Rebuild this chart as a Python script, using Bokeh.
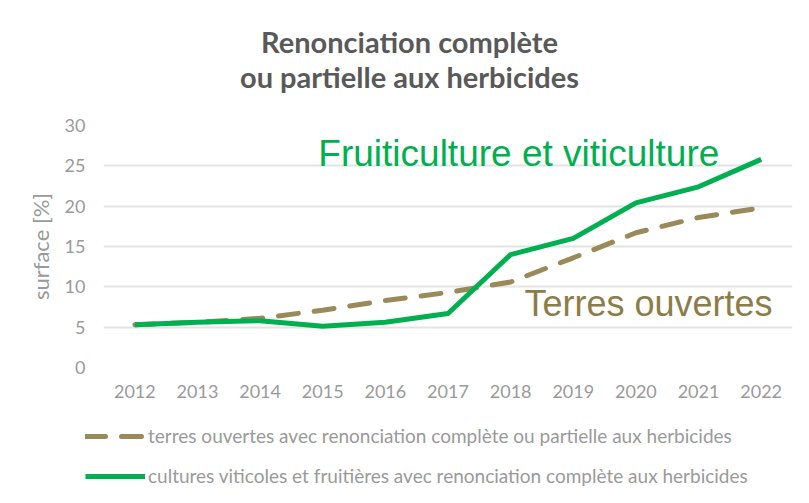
from bokeh.plotting import figure
from bokeh.models import Legend, LegendItem, Label, FixedTicker, Range1d
from bokeh.layouts import column
from bokeh.embed import file_html
from bokeh.resources import INLINE

years = ["2012", "2013", "2014", "2015", "2016", "2017", "2018", "2019", "2020", "2021", "2022"]
terres = [5.3, 5.6, 6.1, 7.1, 8.3, 9.3, 10.6, 13.6, 16.7, 18.6, 19.8]
cultures = [5.3, 5.6, 5.8, 5.1, 5.6, 6.7, 14.0, 16.0, 20.4, 22.4, 25.8]
y_ticks = [0, 5, 10, 15, 20, 25, 30]

title_line1 = "Renonciation complète"
title_line2 = "ou partielle aux herbicides"
label_terres = "terres ouvertes avec renonciation complète ou partielle aux herbicides"
label_cultures = "cultures viticoles et fruitières avec renonciation complète aux herbicides"
annot_fruit = "Fruiticulture et viticulture"
annot_terres = "Terres ouvertes"

GREEN = "#00b050"
OLIVE = "#9a8a5a"
OLIVE_TXT = "#8b7d48"
GRAY = "#9a9a9a"
FONT = "Lato"
ANN_FONT = "Liberation Sans"
W = 801


def bare(h, xr, yr):
    f = figure(width=W, height=h, x_range=xr, y_range=yr, output_backend="svg",
               toolbar_location=None, x_axis_type=None, y_axis_type=None, title=None,
               min_border=0, min_border_left=0, min_border_right=0,
               min_border_top=0, min_border_bottom=0, frame_align=False)
    f.outline_line_color = None
    f.xgrid.visible = False
    f.ygrid.visible = False
    f.background_fill_color = "white"
    f.border_fill_color = "white"
    return f


# --- title block ---
top = bare(110, Range1d(0, W), Range1d(110, 0))
for txt, yy in ((title_line1, 41), (title_line2, 76)):
    top.add_layout(Label(x=409, y=yy, text=txt, text_align="center", text_baseline="alphabetic",
                         text_font=FONT, text_font_size="29px", text_font_style="bold",
                         text_color="#595959"))

# --- main chart ---
p = figure(x_range=years, y_range=(0, 30), width=W, height=302,
           output_backend="svg", toolbar_location=None, frame_align=False,
           min_border_left=103, min_border_right=9, min_border_top=15, min_border_bottom=45)
p.outline_line_color = None
p.background_fill_color = "white"
p.border_fill_color = "white"

p.xgrid.grid_line_color = None
p.ygrid.grid_line_color = "#e3e3e3"
p.ygrid.grid_line_width = 2

p.yaxis.ticker = FixedTicker(ticks=y_ticks)
for ax in (p.xaxis[0], p.yaxis[0]):
    ax.axis_line_color = None
    ax.major_tick_line_color = None
    ax.minor_tick_line_color = None
    ax.major_tick_out = 0
    ax.major_tick_in = 0
    ax.major_label_text_font = FONT
    ax.major_label_text_font_size = "18px"
    ax.major_label_text_color = GRAY
p.yaxis.major_label_standoff = 18
p.xaxis.major_label_standoff = 17
p.yaxis.axis_label = "surface [%]"
p.yaxis.axis_label_text_font = FONT
p.yaxis.axis_label_text_font_size = "22px"
p.yaxis.axis_label_text_font_style = "normal"
p.yaxis.axis_label_text_color = GRAY
p.yaxis.axis_label_standoff = 8

p.line(years, terres, line_color=OLIVE, line_width=5, line_dash="20 16", line_cap="round")
p.line(years, cultures, line_color=GREEN, line_width=5, line_join="round")

p.add_layout(Label(x=3.43, y=26.5, text=annot_fruit, text_font=ANN_FONT, text_font_size="37px",
                   text_color=GREEN, text_baseline="alphabetic"))
p.add_layout(Label(x=6.72, y=7.9, text=annot_terres, text_font=ANN_FONT, text_font_size="36px",
                   text_color=OLIVE_TXT, text_baseline="alphabetic"))

# --- legend block ---
lg = bare(83, Range1d(0, 1), Range1d(0, 1))
g1 = lg.line(x=[-10, -9], y=[-10, -9], line_color=OLIVE, line_width=5, line_dash="20 16",
             line_cap="round")
g2 = lg.line(x=[-10, -9], y=[-10, -9], line_color=GREEN, line_width=5)
legend = Legend(items=[LegendItem(label=label_terres, renderers=[g1]),
                       LegendItem(label=label_cultures, renderers=[g2])],
                location=(85, 8), orientation="vertical",
                glyph_width=60, glyph_height=20, label_height=20, spacing=17,
                label_standoff=3, padding=0, margin=0,
                label_text_font=FONT, label_text_font_size="19px", label_text_color=GRAY,
                border_line_color=None, background_fill_alpha=0)
lg.add_layout(legend, "center")

layout = column(top, p, lg, spacing=0)
open("out.html", "w").write(file_html(layout, INLINE))
